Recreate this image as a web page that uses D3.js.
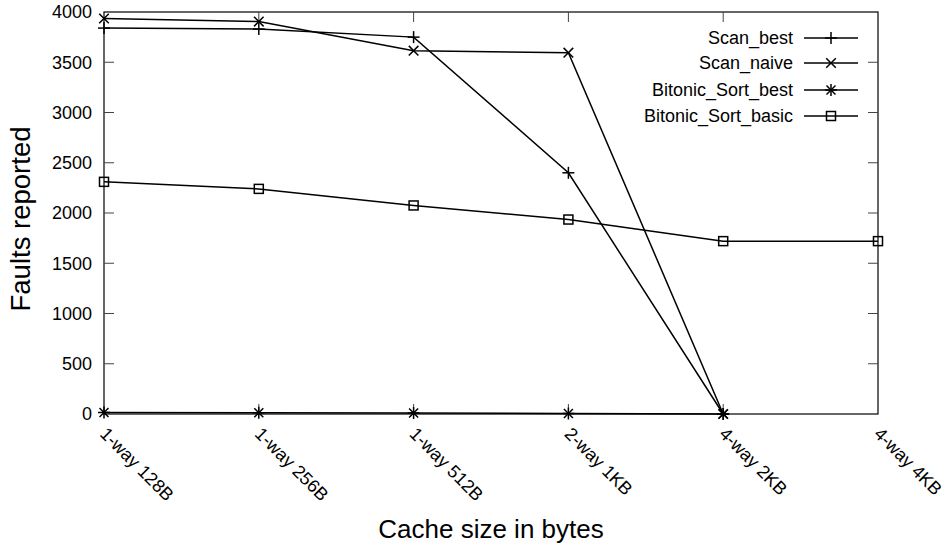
<!DOCTYPE html>
<html><head><meta charset="utf-8">
<script src="https://cdn.jsdelivr.net/npm/d3@7"></script>
<style>body{margin:0;background:#fff}svg{display:block}text{font-family:"Liberation Sans",Arial,sans-serif;fill:#000}</style>
</head><body><svg id="c" width="948" height="550"></svg>
<script>
const categories = ["1-way 128B","1-way 256B","1-way 512B","2-way 1KB","4-way 2KB","4-way 4KB"];
const scanBest = [3840, 3830, 3750, 2400, 0];
const scanNaive = [3935, 3905, 3615, 3595, 0];
const bitonicBest = [15, 12, 10, 5, 0];
const bitonicBasic = [2310, 2240, 2075, 1935, 1720, 1720];
const yTicks = [0,500,1000,1500,2000,2500,3000,3500,4000];
const seriesNames = ["Scan_best","Scan_naive","Bitonic_Sort_best","Bitonic_Sort_basic"];
const seriesMarkers = ["plus","cross","star","square"];

const svg = d3.select("#c");
const L=104,R=878,T=12,B=414;
const x = d3.scalePoint().domain(categories).range([L,R]);
const y = d3.scaleLinear().domain([0,4000]).range([B,T]);

svg.append("rect").attr("x",L).attr("y",T).attr("width",R-L).attr("height",B-T).attr("fill","none").attr("stroke","#000").attr("stroke-width",1.2);

const tl=10;
const yAx = svg.append("g");
yTicks.forEach(v=>{
  const yy=y(v);
  if(v>0 && v<4000){
    yAx.append("line").attr("x1",L).attr("x2",L+tl).attr("y1",yy).attr("y2",yy).attr("stroke","#444");
    yAx.append("line").attr("x1",R).attr("x2",R-tl).attr("y1",yy).attr("y2",yy).attr("stroke","#444");
  }
  yAx.append("text").attr("x",L-12).attr("y",yy).attr("dy","0.36em").attr("text-anchor","end").attr("font-size",18).text(v);
});
const xAx = svg.append("g");
categories.forEach((c,i)=>{
  const xx=x(c);
  if(i>0 && i<categories.length-1){
    xAx.append("line").attr("x1",xx).attr("x2",xx).attr("y1",B).attr("y2",B-tl).attr("stroke","#444");
    xAx.append("line").attr("x1",xx).attr("x2",xx).attr("y1",T).attr("y2",T+tl).attr("stroke","#444");
  }
  xAx.append("text").attr("transform",`translate(${xx-5},${B+21}) rotate(45)`).attr("text-anchor","start").attr("font-size",18).text(c);
});

svg.append("text").attr("x",(L+R)/2).attr("y",538).attr("text-anchor","middle").attr("font-size",26).text("Cache size in bytes");
svg.append("text").attr("transform",`translate(30,219) rotate(-90)`).attr("text-anchor","middle").attr("font-size",27.5).text("Faults reported");

function marker(g,type,cx,cy){
  const s=6;
  const st={stroke:"#000","stroke-width":1.5,fill:"none"};
  const ln=(x1,y1,x2,y2)=>{const l=g.append("line").attr("x1",x1).attr("y1",y1).attr("x2",x2).attr("y2",y2);Object.entries(st).forEach(([k,v])=>l.attr(k,v));};
  if(type==="plus"){ln(cx-s,cy,cx+s,cy);ln(cx,cy-s,cx,cy+s);}
  else if(type==="cross"){const d=4.8;ln(cx-d,cy-d,cx+d,cy+d);ln(cx-d,cy+d,cx+d,cy-d);}
  else if(type==="star"){const d=4.5;ln(cx-s,cy,cx+s,cy);ln(cx,cy-s,cx,cy+s);ln(cx-d,cy-d,cx+d,cy+d);ln(cx-d,cy+d,cx+d,cy-d);}
  else if(type==="square"){g.append("rect").attr("x",cx-4.5).attr("y",cy-4.5).attr("width",9).attr("height",9).attr("fill","none").attr("stroke","#000").attr("stroke-width",1.5);}
}

const allSeries=[scanBest,scanNaive,bitonicBest,bitonicBasic];
const line=d3.line().x((d,i)=>x(categories[i])).y(d=>y(d));
allSeries.forEach((s,k)=>{
  const g=svg.append("g");
  g.append("path").attr("d",line(s)).attr("fill","none").attr("stroke","#000").attr("stroke-width",1.5);
  s.forEach((v,i)=>marker(g,seriesMarkers[k],x(categories[i]),y(v)));
});

const lg=svg.append("g");
const legY=[38,63,90,116];
seriesNames.forEach((n,k)=>{
  const yy=legY[k];
  lg.append("text").attr("x",793).attr("y",yy).attr("dy","0.36em").attr("text-anchor","end").attr("font-size",18).text(n);
  lg.append("line").attr("x1",804).attr("x2",858).attr("y1",yy).attr("y2",yy).attr("stroke","#000").attr("stroke-width",1.5);
  marker(lg,seriesMarkers[k],831,yy);
});
</script></body></html>
